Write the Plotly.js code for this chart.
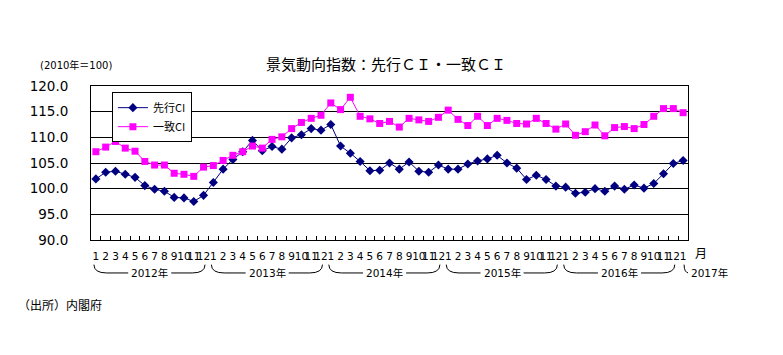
<!DOCTYPE html>
<html>
<head>
<meta charset="utf-8">
<script src="https://cdn.plot.ly/plotly-3.0.1.min.js"></script>
<style>html,body{margin:0;padding:0;background:#fff;}#chart{width:783px;height:355px;}</style>
</head>
<body>
<div id="chart"></div>
<script>
// ---- data ----
const years = ["2012年", "2013年", "2014年", "2015年", "2016年", "2017年"];
const monthLabels = [
  "1","2","3","4","5","6","7","8","9","10","11","12",
  "1","2","3","4","5","6","7","8","9","10","11","12",
  "1","2","3","4","5","6","7","8","9","10","11","12",
  "1","2","3","4","5","6","7","8","9","10","11","12",
  "1","2","3","4","5","6","7","8","9","10","11","12",
  "1"
];
const leadingCI = [
  101.9, 103.2, 103.4, 102.8, 102.2, 100.6, 99.9, 99.5, 98.3, 98.2, 97.5, 98.7,
  101.2, 103.8, 105.7, 107.2, 109.4, 107.4, 108.2, 107.7, 109.9, 110.5, 111.7, 111.4,
  112.5, 108.3, 106.9, 105.3, 103.5, 103.6, 105.0, 103.8, 105.2, 103.4, 103.2, 104.6,
  103.8, 103.8, 104.8, 105.4, 105.8, 106.5, 105.0, 104.0, 101.8, 102.6, 101.8, 100.5,
  100.3, 99.1, 99.3, 100.0, 99.5, 100.5, 99.9, 100.7, 100.1, 101.0, 102.9, 104.9,
  105.5
];
const coincidentCI = [
  107.2, 108.1, 109.2, 107.9, 107.3, 105.3, 104.6, 104.6, 103.0, 102.8, 102.4, 104.2,
  104.5, 105.5, 106.5, 107.2, 108.3, 107.9, 109.6, 110.1, 111.7, 112.9, 113.7, 114.3,
  116.7, 115.4, 117.8, 114.1, 113.6, 112.7, 113.1, 112.0, 113.7, 113.4, 113.1, 113.9,
  115.3, 113.5, 112.3, 114.1, 112.3, 113.7, 113.3, 112.7, 112.6, 113.7, 112.7, 111.6,
  112.6, 110.4, 111.1, 112.4, 110.3, 111.9, 112.1, 111.7, 112.5, 114.1, 115.6, 115.6,
  114.8
];
const seriesNames = ["先行CI", "一致CI"];
const yTicks = [90, 95, 100, 105, 110, 115, 120];

// ---- derived ----
const idx = monthLabels.map((_, i) => i);
const boundaries = idx.slice(0, -1).map(i => i + 0.5);

const jp = "Noto Sans CJK JP";
const dv = "DejaVu Sans, Noto Sans CJK JP";

const traces = [
  {
    x: idx, y: leadingCI, name: seriesNames[0], type: "scatter", mode: "lines+markers",
    line: {color: "#000080", width: 1},
    marker: {symbol: "diamond", size: 7, color: "#000080"}
  },
  {
    x: idx, y: coincidentCI, name: seriesNames[1], type: "scatter", mode: "lines+markers",
    line: {color: "#FF00FF", width: 1},
    marker: {symbol: "square", size: 7, color: "#FF00FF"}
  },
  {
    x: [0], y: [100], xaxis: "x2", type: "scatter", mode: "markers",
    marker: {opacity: 0}, showlegend: false, hoverinfo: "skip"
  }
];

// year brackets
const yTop = -0.16, yBot = -0.214, yLab = -0.214;
const shapes = [];
const annotations = [];
const n = monthLabels.length;
for (let k = 0; k < years.length; k++) {
  const s = 12 * k, e = Math.min(12 * k + 11, n - 1);
  if (e - s >= 11) {
    const c = (s + e) / 2;
    const L = s - 0.2, R = e + 0.15;
    shapes.push({type: "path", xref: "x", yref: "paper",
      path: `M ${L},${yTop} Q ${L},${yBot} ${L + 1.3},${yBot} L ${c - 2.2},${yBot}`,
      line: {color: "#000", width: 1}});
    shapes.push({type: "path", xref: "x", yref: "paper",
      path: `M ${c + 2.2},${yBot} L ${R - 1.3},${yBot} Q ${R},${yBot} ${R},${yTop}`,
      line: {color: "#000", width: 1}});
    annotations.push({x: c, y: yLab, xref: "x", yref: "paper", text: years[k],
      showarrow: false, xanchor: "center", yanchor: "middle",
      font: {family: dv, size: 10.5, color: "#000"}});
  } else {
    shapes.push({type: "path", xref: "x", yref: "paper",
      path: `M ${s + 0.1},${yTop} Q ${s + 0.1},${yBot} ${s + 0.6},${yBot}`,
      line: {color: "#000", width: 1}});
    annotations.push({x: 1.002, y: yLab, xref: "paper", yref: "paper", text: years[k],
      showarrow: false, xanchor: "left", yanchor: "middle",
      font: {family: dv, size: 10.5, color: "#000"}});
  }
}
annotations.push({x: 1.022, y: -0.084, xref: "paper", yref: "paper", text: "月",
  showarrow: false, xanchor: "center", yanchor: "middle",
  font: {family: jp, size: 12, color: "#000"}});
annotations.push({x: -0.089, y: 1.136, xref: "paper", yref: "paper", text: "(2010年＝100)",
  showarrow: false, xanchor: "left", yanchor: "middle",
  font: {family: dv, size: 10, color: "#000"}});
annotations.push({x: -0.125, y: -0.422, xref: "paper", yref: "paper", text: "（出所）内閣府",
  showarrow: false, xanchor: "left", yanchor: "middle",
  font: {family: jp, size: 12, color: "#000"}});

const layout = {
  width: 783, height: 355,
  margin: {l: 91, r: 95, t: 86, b: 115, pad: 0},
  paper_bgcolor: "#fff", plot_bgcolor: "#fff",
  showlegend: true,
  title: {text: "景気動向指数：先行ＣＩ・一致ＣＩ", xref: "paper", x: 0.494, xanchor: "center",
    yref: "container", y: 0.817, yanchor: "middle",
    font: {family: jp, size: 15, color: "#000"}},
  xaxis: {
    range: [-0.5, n - 0.5], tickmode: "array", tickvals: idx, ticktext: monthLabels,
    ticks: "", tickangle: 0, showgrid: false, zeroline: false,
    showline: true, mirror: true, linecolor: "#000", linewidth: 1,
    ticklabelstandoff: 6,
    tickfont: {family: dv, size: 10.5, color: "#000"}
  },
  xaxis2: {
    overlaying: "x", anchor: "y", side: "bottom", range: [-0.5, n - 0.5],
    tickmode: "array", tickvals: boundaries, ticks: "inside", ticklen: 4,
    tickcolor: "#000", tickwidth: 1, showticklabels: false,
    showgrid: false, zeroline: false, showline: false
  },
  yaxis: {
    range: [90, 120], tickmode: "array", tickvals: yTicks, tickformat: ".1f",
    showgrid: true, gridcolor: "#000", gridwidth: 1, zeroline: false,
    showline: true, mirror: true, linecolor: "#000", linewidth: 1,
    ticks: "", ticklabelstandoff: 19,
    tickfont: {family: dv, size: 13.5, color: "#000"}
  },
  legend: {
    x: 0.035, y: 0.96, xanchor: "left", yanchor: "top",
    bgcolor: "#fff", bordercolor: "#000", borderwidth: 1,
    font: {family: jp, size: 11, color: "#000"}, tracegroupgap: 0
  },
  shapes: shapes,
  annotations: annotations
};

Plotly.newPlot("chart", traces, layout, {staticPlot: true, displayModeBar: false});
</script>
</body>
</html>
